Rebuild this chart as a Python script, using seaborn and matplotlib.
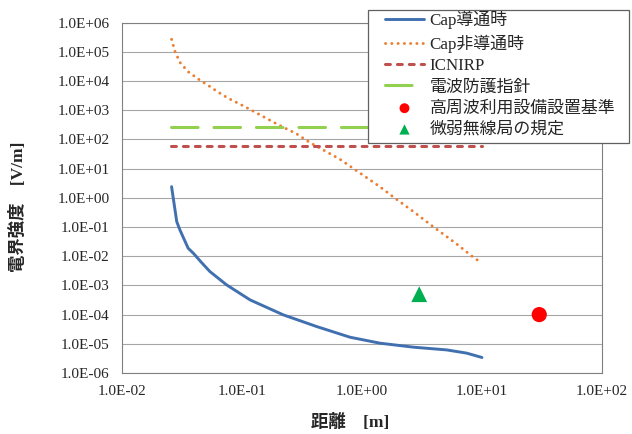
import numpy as np
import pandas as pd
import matplotlib
matplotlib.use("Agg")
import matplotlib.pyplot as plt
import matplotlib.ticker as mticker
from matplotlib.patches import Rectangle
import seaborn as sns

# ==========================================
# Datos (距離 [m], 電界強度 [V/m])
# ==========================================
dist_on = [0.0259, 0.0286, 0.0304, 0.0356, 0.0393, 0.0461, 0.0541, 0.0745,
           0.117, 0.221, 0.419, 0.794, 1.41, 2.68, 5.08, 7.45, 10.0]
e_on = [2.42, 0.153, 0.0794, 0.0188, 0.0127, 6.04e-3, 2.97e-3, 1.04e-3,
        3.18e-4, 9.8e-5, 3.9e-5, 1.68e-5, 1.05e-5, 7.66e-6, 6.17e-6, 4.79e-6, 3.39e-6]

dist_off = [0.0259, 0.0277, 0.0304, 0.0356, 0.0433, 0.0524, 0.0634, 0.0769,
            0.0962, 0.130, 0.195, 0.286, 0.369, 0.476, 0.656, 1.41, 1.88,
            2.68, 3.93, 6.15, 8.20, 10.0]
e_off = [2.69e5, 1.02e5, 4.37e4, 2.09e4, 1.17e4, 7.08e3, 4.17e3, 2.57e3,
         1.62e3, 841, 339, 155, 77.6, 43.7, 20.9, 2.40, 0.977,
         0.339, 0.102, 0.0263, 0.0102, 5.75e-3]

dist_ref = [0.0255, 10.0]
icnirp = [58, 58]
bogo = [275, 275]

koushuuha_x = [30]
koushuuha_y = [1.0e-4]
bijaku_x = [3]
bijaku_y = [5.0e-4]

etiquetas = ["Cap導通時", "Cap非導通時", "ICNIRP", "電波防護指針",
             "高周波利用設備設置基準", "微弱無線局の規定"]

# ==========================================
# Gráfico
# ==========================================
sns.set_style("white")
plt.rcParams['font.family'] = ['Liberation Serif', 'Noto Sans CJK JP', 'DejaVu Sans']

fig, ax = plt.subplots(figsize=(6.32, 4.34), dpi=100)
fig.subplots_adjust(left=0.193, right=0.9525, top=0.9477, bottom=0.1406)
ax.set_xscale("log")
ax.set_yscale("log")

sns.lineplot(x=dist_on, y=e_on, ax=ax, color="#4170B0", lw=2.1,
             label=etiquetas[0], sort=False)
sns.lineplot(x=dist_off, y=e_off, ax=ax, color="#ED7D31", lw=2.1,
             linestyle=(0, (0.05, 2.1)), dash_capstyle="round",
             label=etiquetas[1], sort=False)
sns.lineplot(x=dist_ref, y=icnirp, ax=ax, color="#C0504D", lw=2.2,
             linestyle=(0, (1.6, 2.3)), dash_capstyle="round",
             label=etiquetas[2])
sns.lineplot(x=dist_ref, y=bogo, ax=ax, color="#92D050", lw=2.2,
             linestyle=(0, (8.7, 5.2)), dash_capstyle="round",
             label=etiquetas[3])
sns.scatterplot(x=koushuuha_x, y=koushuuha_y, ax=ax, color="#FF0000",
                marker="o", s=120, edgecolor="none", label=etiquetas[4])
sns.scatterplot(x=bijaku_x, y=bijaku_y, ax=ax, color="#00B050",
                marker="^", s=130, edgecolor="none", label=etiquetas[5])

ax.set_xlim(1e-2, 1e2)
ax.set_ylim(1e-6, 1e6)
ax.xaxis.set_major_locator(mticker.LogLocator(base=10, numticks=20))
ax.yaxis.set_major_locator(mticker.LogLocator(base=10, numticks=20))
ax.xaxis.set_minor_locator(mticker.NullLocator())
ax.yaxis.set_minor_locator(mticker.NullLocator())
formato = mticker.FuncFormatter(lambda v, pos: f"{v:.1E}")
ax.xaxis.set_major_formatter(formato)
ax.yaxis.set_major_formatter(formato)
ax.tick_params(axis="both", labelsize=11, length=4, width=0.8,
               color="#808080", pad=5, direction="out")

ax.grid(axis="y", color="#A6A6A6", lw=0.8)
ax.grid(axis="x", visible=False)
for lado in ax.spines.values():
    lado.set_color("#808080")
    lado.set_linewidth(0.8)

ax.set_xlabel("距離　[m]", fontsize=12.5, fontweight="bold")
ax.set_ylabel("電界強度　[V/m]", fontsize=12.5, fontweight="bold")
ax.xaxis.set_label_coords(0.475, -0.117)
ax.yaxis.set_label_coords(-0.198, 0.474)

# Leyenda: marco dibujado a mano en coordenadas de la figura
handles, labels = ax.get_legend_handles_labels()
ax.get_legend().remove()
W, H = 632, 434
marco = Rectangle((368 / W, 1 - 143 / H), (629 - 368) / W, (143 - 10) / H,
                  transform=fig.transFigure, facecolor="white",
                  edgecolor="#606060", lw=0.9, zorder=3)
fig.patches.append(marco)
fig.legend(handles, labels, loc="upper left",
           bbox_to_anchor=(385 / W, 1 - 11 / H), frameon=False,
           borderpad=0, borderaxespad=0, handlelength=2.3,
           handletextpad=0.34, labelspacing=0.31, markerscale=0.65,
           prop={"size": 12.2})

plt.savefig("out.png", dpi=100)
